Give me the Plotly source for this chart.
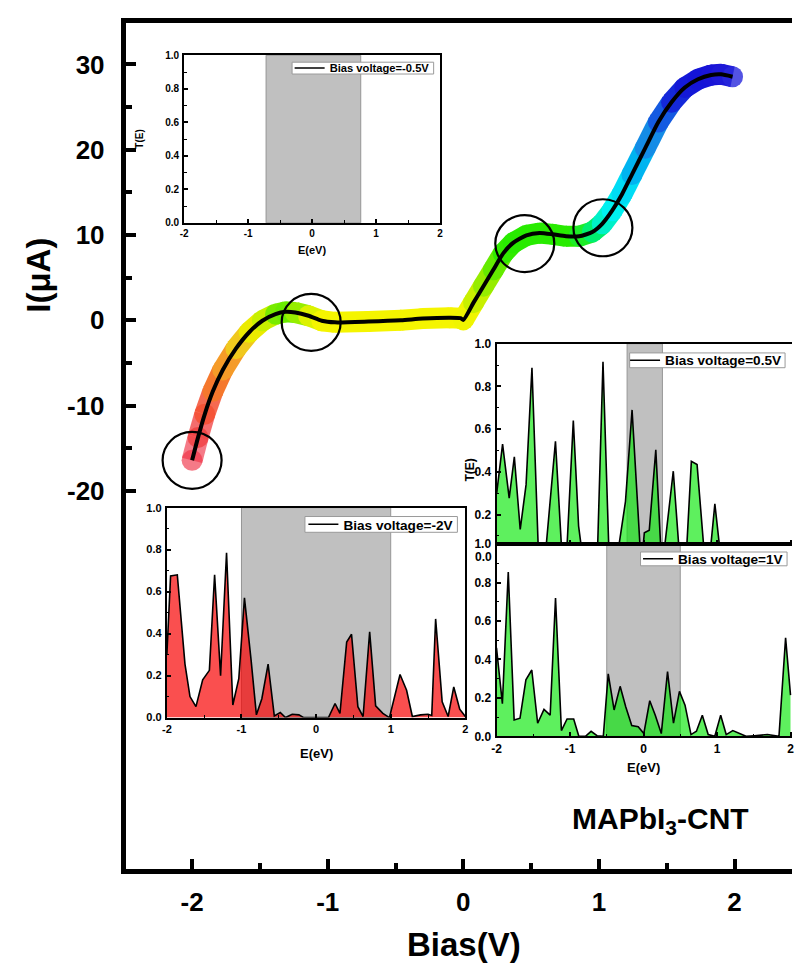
import plotly.graph_objects as go

# ---------------- data ----------------
# main I-V curve
bias_v = [-2.0, -1.956, -1.907, -1.847, -1.774, -1.677, -1.579, -1.482, -1.385, -1.312,
          -1.239, -1.141, -1.044, -0.947, -0.70, -0.46, -0.30, -0.10, -0.02, 0.0,
          0.075, 0.148, 0.221, 0.294, 0.367, 0.465, 0.562, 0.659, 0.757, 0.854,
          0.951, 1.024, 1.097, 1.170, 1.243, 1.341, 1.438, 1.535, 1.633, 1.730,
          1.827, 1.900, 1.985]
current_ua = [-16.42, -13.73, -11.02, -8.33, -5.82, -3.33, -1.40, -0.05, 0.72, 0.99,
              0.91, 0.53, -0.05, -0.24, -0.15, 0.0, 0.2, 0.3, 0.25, 0.05,
              2.07, 4.0, 5.92, 7.85, 9.08, 9.96, 10.24, 10.08, 9.85, 9.85,
              10.35, 11.31, 12.85, 14.78, 17.09, 20.18, 23.25, 25.56, 27.29, 28.26,
              28.76, 28.84, 28.56]
band_colors = ["rgba(240,50,70,0.65)", "rgba(240,60,60,0.75)", "rgba(245,80,50,0.85)",
               "rgb(245,120,45)", "rgb(245,155,40)", "rgb(240,200,30)", "rgb(235,235,0)",
               "rgb(200,240,0)", "rgb(120,235,0)", "rgb(105,235,0)", "rgb(150,238,0)",
               "rgb(220,242,0)", "rgb(245,245,0)", "rgb(245,245,0)", "rgb(245,245,0)",
               "rgb(245,245,0)", "rgb(245,245,0)", "rgb(245,245,0)", "rgb(245,245,0)",
               "rgb(240,245,0)", "rgb(200,240,0)", "rgb(150,236,0)", "rgb(100,235,0)",
               "rgb(50,235,0)", "rgb(40,235,0)", "rgb(40,235,0)", "rgb(40,235,0)",
               "rgb(40,235,0)", "rgb(40,235,0)", "rgb(30,236,40)", "rgb(0,238,110)",
               "rgb(0,240,200)", "rgb(0,240,240)", "rgb(0,220,245)", "rgb(0,180,240)",
               "rgb(20,140,230)", "rgb(20,90,225)", "rgb(20,40,218)", "rgb(20,25,215)",
               "rgb(20,20,215)", "rgb(25,20,215)", "rgb(30,25,215)", "rgba(40,40,220,0.8)"]

# circled points
circle_v = [-2.0, -1.122, 0.453, 1.029]
circle_i = [-16.42, -0.24, 9.0, 10.85]

# transmission spectra
e_m05 = []
t_m05 = []
gap_m05 = [-0.72, 0.76]

e_m2 = [-2.0, -1.95, -1.86, -1.757, -1.69, -1.61, -1.52, -1.43, -1.36, -1.28,
        -1.2, -1.116, -1.036, -0.96, -0.87, -0.80, -0.727, -0.643, -0.56, -0.48,
        -0.41, -0.32, -0.23, -0.166, 0.166, 0.254, 0.32, 0.41, 0.475, 0.56,
        0.63, 0.718, 0.798, 0.895, 0.983, 1.125, 1.213, 1.29, 1.40, 1.50,
        1.55, 1.602, 1.69, 1.77, 1.845, 1.925, 2.0]
t_m2 = [0.30, 0.675, 0.68, 0.255, 0.10, 0.052, 0.18, 0.225, 0.68, 0.20,
        0.785, 0.06, 0.185, 0.57, 0.27, 0.013, 0.09, 0.255, 0.008, 0.024,
        0.0, 0.016, 0.013, 0.0, 0.0, 0.067, 0.02, 0.36, 0.397, 0.052,
        0.005, 0.408, 0.056, 0.02, 0.0, 0.205, 0.13, 0.005, 0.013, 0.016,
        0.01, 0.47, 0.075, 0.005, 0.146, 0.04, 0.005]
gap_m2 = [-1.0, 1.0]

e_p05 = [-2.0, -1.92, -1.83, -1.76, -1.68, -1.60, -1.52, -1.43, -1.34, -1.2,
         -1.11, -1.05, -0.957, -0.885, -0.83, -0.63, -0.553, -0.47, -0.36, -0.247,
         -0.157, -0.04, -0.02, 0.01, 0.077, 0.166, 0.24, 0.27, 0.404, 0.49,
         0.58, 0.65, 0.728, 0.83, 0.90, 0.97, 1.05, 2.0]
t_p05 = [0.30, 0.53, 0.277, 0.47, 0.13, 0.34, 0.888, 0.0, 0.0, 0.543,
         0.0, 0.0, 0.64, 0.146, 0.0, 0.0, 0.915, 0.0, 0.0, 0.26,
         0.69, 0.0, 0.0, 0.115, 0.126, 0.503, 0.0, 0.0, 0.403, 0.0,
         0.0, 0.449, 0.434, 0.0, 0.0, 0.25, 0.0, 0.0]
gap_p05 = [-0.225, 0.256]

e_p1 = [-2.0, -1.92, -1.84, -1.76, -1.68, -1.60, -1.52, -1.44, -1.354, -1.27,
        -1.197, -1.117, -1.04, -0.95, -0.88, -0.79, -0.713, -0.632, -0.547, -0.48,
        -0.40, -0.318, -0.242, -0.16, -0.072, 0.004, 0.085, 0.16, 0.242, 0.327,
        0.408, 0.489, 0.565, 0.646, 0.72, 0.80, 0.88, 0.97, 1.05, 1.125,
        1.215, 1.305, 1.395, 1.507, 1.686, 1.843, 1.933, 2.0]
t_p1 = [0.46, 0.17, 0.855, 0.085, 0.094, 0.294, 0.345, 0.068, 0.14, 0.11,
        0.72, 0.03, 0.09, 0.09, 0.0, 0.0, 0.026, 0.003, 0.0, 0.325,
        0.137, 0.26, 0.154, 0.056, 0.05, 0.014, 0.185, 0.11, 0.014, 0.337,
        0.068, 0.234, 0.162, 0.009, 0.026, 0.11, 0.009, 0.0, 0.11, 0.009,
        0.03, 0.014, 0.0, 0.003, 0.009, 0.0, 0.513, 0.214]
gap_p1 = [-0.5, 0.5]

main_xticks = [-2, -1, 0, 1, 2]
main_xminor = [-1.5, -0.5, 0.5, 1.5]
main_yticks = [-20, -10, 0, 10, 20, 30]
main_yminor = [-15, -5, 5, 15, 25]

# ---------------- layout helpers ----------------
W, H = 795, 968
FONT = "Liberation Sans, Arial, sans-serif"


def fx(p):
    return p / W


def fy(p):
    return 1 - p / H


fig = go.Figure()

# coloured band under the I-V curve
for i in range(len(bias_v) - 1):
    fig.add_trace(go.Scatter(x=bias_v[i:i + 2], y=current_ua[i:i + 2], mode="lines",
                             line=dict(color=band_colors[i], width=21),
                             hoverinfo="skip", showlegend=False, xaxis="x", yaxis="y"))
fig.add_trace(go.Scatter(x=bias_v, y=current_ua, mode="markers",
                         marker=dict(color=band_colors, size=21, line=dict(width=0)),
                         hoverinfo="skip", showlegend=False, xaxis="x", yaxis="y"))
# black I-V curve
fig.add_trace(go.Scatter(x=bias_v, y=current_ua, mode="lines",
                         line=dict(color="black", width=4, shape="spline", smoothing=0.6),
                         showlegend=False, xaxis="x", yaxis="y"))

# circles around points of interest
for cv, ci in zip(circle_v, circle_i):
    fig.add_shape(type="circle", xref="x", yref="y", xsizemode="pixel", ysizemode="pixel",
                  xanchor=cv, yanchor=ci, x0=-29.5, x1=29.5, y0=-28.5, y1=28.5,
                  line=dict(color="black", width=2.2), layer="above")

# insets: (e, t, gap, axis suffix, fill colour, legend name, legend id, legend box px)
insets = [
    (e_m05, t_m05, gap_m05, "2", "rgba(0,0,0,0)", "Bias voltage=-0.5V", "legend",
     (290, 56, 433, 68)),
    (e_m2, t_m2, gap_m2, "3", "rgba(248,0,0,0.69)", "Bias voltage=-2V", "legend2",
     (303, 517, 457, 533)),
    (e_p05, t_p05, gap_p05, "4", "rgba(0,231,0,0.63)", "Bias voltage=0.5V", "legend3",
     (631, 351, 788, 366)),
    (e_p1, t_p1, gap_p1, "5", "rgba(0,231,0,0.63)", "Bias voltage=1V", "legend4",
     (642, 553, 790, 567)),
]
legend_cfg = {}
for e, t, gap, s, fc, name, lg, box in insets:
    fig.add_shape(type="rect", xref="x" + s, yref="y" + s + " domain",
                  x0=gap[0], x1=gap[1], y0=0, y1=1, layer="below",
                  fillcolor="rgb(192,192,192)", line=dict(color="rgb(150,150,150)", width=1))
    if e:
        fig.add_trace(go.Scatter(x=e, y=t, mode="lines", fill="tozeroy", fillcolor=fc,
                                 line=dict(color="black", width=1.6),
                                 showlegend=False, xaxis="x" + s, yaxis="y" + s))
    fig.add_trace(go.Scatter(x=[None], y=[None], mode="lines",
                             line=dict(color="black", width=1.5), name=name,
                             legend=lg, showlegend=True, xaxis="x" + s, yaxis="y" + s))
    # legend frame
    fig.add_shape(type="rect", xref="paper", yref="paper",
                  x0=fx(box[0]), x1=fx(box[2]), y0=fy(box[3]), y1=fy(box[1]),
                  fillcolor="white", line=dict(color="#9a9a9a", width=1), layer="above")
    legend_cfg[lg] = dict(x=fx(box[2] + 1), y=fy((box[1] + box[3]) / 2),
                          xanchor="right", yanchor="middle",
                          bgcolor="rgba(0,0,0,0)", borderwidth=0, itemwidth=30,
                          xref="paper", yref="paper")

bold = dict(family=FONT, color="black", weight="bold")
legend_cfg["legend"]["font"] = dict(size=11.2, **bold)
legend_cfg["legend2"]["font"] = dict(size=13.6, **bold)
legend_cfg["legend3"]["font"] = dict(size=13.6, **bold)
legend_cfg["legend4"]["font"] = dict(size=13.6, **bold)
fig.update_layout(**legend_cfg)

# main axes
fig.update_layout(
    xaxis=dict(domain=[fx(122), 1.0], range=[(122 - 463) / 137, (795 - 463) / 137],
               showline=True, linewidth=5, linecolor="black", mirror=True,
               ticks="inside", ticklen=10, tickwidth=4, tickcolor="black",
               tickvals=main_xticks, ticktext=[str(v) for v in main_xticks],
               minor=dict(tickvals=main_xminor, ticks="inside", ticklen=6, tickwidth=4,
                          tickcolor="black"),
               showgrid=False, zeroline=False, tickfont=dict(size=26, **bold),
               ticklabelstandoff=5, anchor="y"),
    yaxis=dict(domain=[fy(875), fy(16)],
               range=[-(875 - 317.9) / 8.654, (317.9 - 16) / 8.654],
               showline=True, linewidth=5, linecolor="black", mirror=False,
               ticks="inside", ticklen=10, tickwidth=4, tickcolor="black",
               tickvals=main_yticks, ticktext=[str(v) for v in main_yticks],
               minor=dict(tickvals=main_yminor, ticks="inside", ticklen=6, tickwidth=4,
                          tickcolor="black"),
               showgrid=False, zeroline=False, tickfont=dict(size=26, **bold),
               ticklabelstandoff=11, anchor="x"),
)

inset_geo = {
    "2": dict(x=[181, 439.5], y=[49, 219], xr=[-2, 2], yr=[0, 1], fs=10, mirror=True,
              xlabels=True, ylabels=True),
    "3": dict(x=[163.5, 465], y=[508, 721], xr=[-2, 2], yr=[0, 1], fs=11, mirror=True,
              xlabels=True, ylabels=True),
    "4": dict(x=[496.7, 795], y=[341.7, 545], xr=[-2, 2 + 1.5 / 74.2],
              yr=[(558.3 - 545) / 216.6, 1.0], fs=12, mirror=False,
              xlabels=False, ylabels=True),
    "5": dict(x=[496.5, 795], y=[545, 740], xr=[-2, 2 + 1.5 / 74.2], yr=[0, 1], fs=12,
              mirror=False, xlabels=True, ylabels=True),
}
for s, g in inset_geo.items():
    fig.update_layout(**{
        "xaxis" + s: dict(domain=[fx(g["x"][0]), fx(g["x"][1])], range=g["xr"],
                          anchor="y" + s, showline=True, linewidth=2, linecolor="black",
                          mirror=True, ticks="inside", ticklen=4, tickwidth=1.5,
                          tickcolor="black", tickvals=[-2, -1, 0, 1, 2],
                          ticktext=["-2", "-1", "0", "1", "2"],
                          showticklabels=g["xlabels"],
                          minor=dict(tickvals=[-1.5, -0.5, 0.5, 1.5], ticks="inside",
                                     ticklen=2.5, tickwidth=1.2, tickcolor="black"),
                          showgrid=False, zeroline=False,
                          tickfont=dict(size=g["fs"], **bold)),
        "yaxis" + s: dict(domain=[fy(g["y"][1]), fy(g["y"][0])], range=g["yr"],
                          anchor="x" + s, showline=True, linewidth=2, linecolor="black",
                          mirror=g["mirror"], ticks="inside", ticklen=4, tickwidth=1.5,
                          tickcolor="black", tickvals=[0, 0.2, 0.4, 0.6, 0.8, 1.0],
                          ticktext=["0.0", "0.2", "0.4", "0.6", "0.8", "1.0"],
                          showticklabels=g["ylabels"],
                          minor=dict(tickvals=[0.1, 0.3, 0.5, 0.7, 0.9], ticks="inside",
                                     ticklen=2.5, tickwidth=1.2, tickcolor="black"),
                          showgrid=False, zeroline=False,
                          tickfont=dict(size=g["fs"], **bold), ticklabelstandoff=1),
    })

annotations = [
    dict(text="I(μA)", x=fx(33), y=fy(272), textangle=-90, font=dict(size=33, **bold)),
    dict(text="Bias(V)", x=fx(464), y=fy(951), font=dict(size=33, **bold)),
    dict(text="MAPbI<sub>3</sub>-CNT", x=fx(662), y=fy(825), font=dict(size=30, **bold)),
    dict(text="T(E)", x=fx(135), y=fy(134), textangle=-90, font=dict(size=10, **bold)),
    dict(text="E(eV)", x=fx(310), y=fy(247), font=dict(size=11, **bold)),
    dict(text="E(eV)", x=fx(315), y=fy(757), font=dict(size=13, **bold)),
    dict(text="T(E)", x=fx(470), y=fy(470), textangle=-90, font=dict(size=12, **bold)),
    dict(text="E(eV)", x=fx(645), y=fy(772), font=dict(size=13, **bold)),
    dict(text="0.0", x=fx(494), y=fy(558.3), xanchor="right", font=dict(size=12, **bold)),
]
for a in annotations:
    a.update(xref="paper", yref="paper", showarrow=False)
    a.setdefault("xanchor", "center")
    a.setdefault("yanchor", "middle")
fig.update_layout(annotations=annotations)

fig.update_layout(width=W, height=H, margin=dict(l=0, r=0, t=0, b=0, pad=0),
                  paper_bgcolor="white", plot_bgcolor="rgba(0,0,0,0)",
                  font=dict(family=FONT, color="black"), hovermode=False)

fig.write_html("out.html")
